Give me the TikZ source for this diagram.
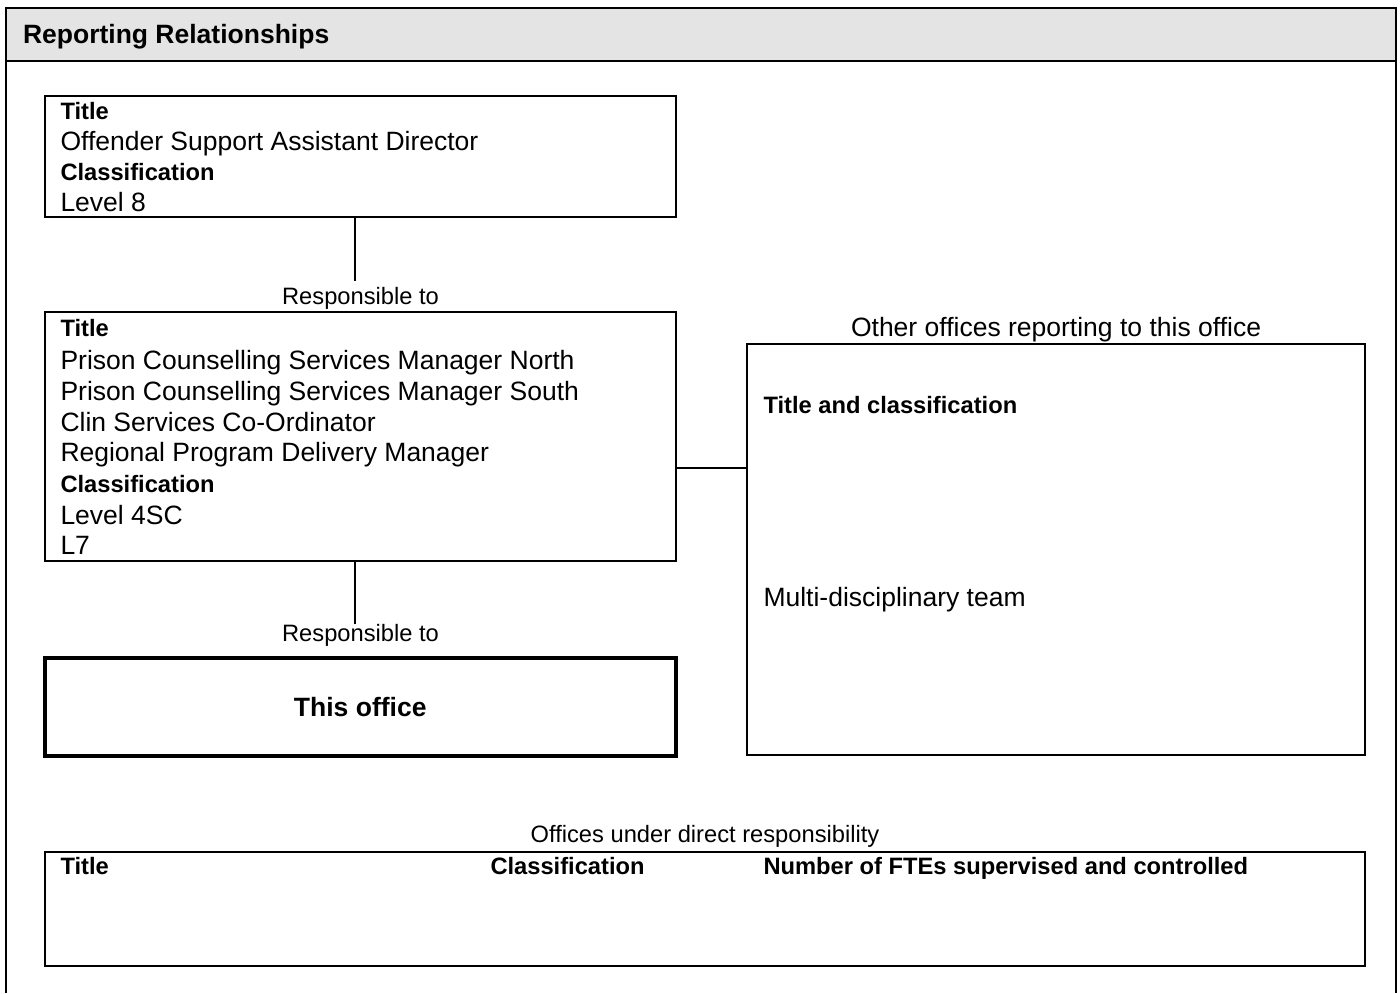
\documentclass[tikz,border=0pt]{standalone}
\usepackage{fontspec}
\setmainfont{Liberation Sans}
\usepackage{tikz}
\definecolor{headgray}{RGB}{228,228,228}
\newcommand{\mainsize}{\fontsize{13.25}{15}\selectfont}
\newcommand{\labelsize}{\fontsize{11.85}{14}\selectfont}

\begin{document}
\begin{tikzpicture}[x=0.5pt, y=-0.5pt, line width=1pt]
    % Define styles for boxes and texts
    \tikzstyle{office}=[draw, line width=1pt, inner sep=0pt]
    \tikzstyle{this office}=[office, line width=2pt]
    \tikzstyle{field}=[anchor=base west, inner sep=0pt, font=\labelsize\bfseries]
    \tikzstyle{entry}=[anchor=base west, inner sep=0pt, font=\mainsize]
    \tikzstyle{caption}=[anchor=base, inner sep=0pt, font=\labelsize]

    \useasboundingbox (0,0) rectangle (1400,993);

    % Frame and heading
    \fill[headgray] (5.5,7.5) rectangle (1395.5,61);
    \draw (5.5,993) -- (5.5,7.5) -- (1395.5,7.5) -- (1395.5,993);
    \draw (5.5,61) -- (1395.5,61);
    \node[entry, font=\mainsize\bfseries] (heading) at (22,43.3) {Reporting Relationships};

    % Boxes
    \node[office, minimum width=315.5pt, minimum height=60.5pt] (director) at (360.5,156) {};
    \node[office, minimum width=315.5pt, minimum height=124.25pt] (managers) at (360.5,436.25) {};
    \node[this office, minimum width=315.25pt, minimum height=49pt] (this) at (360.25,706.5) {};
    \node[office, minimum width=309pt, minimum height=205.5pt] (others) at (1056,549.5) {};
    \node[office, minimum width=660pt, minimum height=57pt] (offices) at (705,909) {};

    % Texts in the boxes
    \foreach \s/\t/\y [count=\i] in {field/Title/119,
            entry/Offender Support Assistant Director/150.7,
            field/Classification/180.5, entry/Level 8/211.3} {
        \node[\s] (director-\i) at (59.5,\y) {\t};
    }
    \foreach \s/\t/\y [count=\i] in {field/Title/336.5,
            entry/Prison Counselling Services Manager North/369,
            entry/Prison Counselling Services Manager South/400,
            entry/Clin Services Co-Ordinator/431,
            entry/Regional Program Delivery Manager/461.3,
            field/Classification/492.5, entry/Level 4SC/524.3, entry/L7/554.3} {
        \node[\s] (managers-\i) at (59.5,\y) {\t};
    }
    \node[anchor=base, inner sep=0pt, font=\mainsize\bfseries] (this-text) at (360.25,716.7) {This office};
    \node[field] (others-1) at (762.5,413.3) {Title and classification};
    \node[entry] (others-2) at (762.5,606) {Multi-disciplinary team};
    \foreach \t/\x [count=\i] in {Title/59.5, Classification/489.5,
            Number of FTEs supervised and controlled/762.5} {
        \node[field] (offices-\i) at (\x,874.5) {\t};
    }

    % Captions
    \node[caption] (resp-1) at (360.5,304) {Responsible to};
    \node[caption] (resp-2) at (360.5,641) {Responsible to};
    \node[caption, font=\mainsize] (others-cap) at (1056,336.5) {Other offices reporting to this office};
    \node[caption] (offices-cap) at (705,842) {Offices under direct responsibility};

    % Connections
    \coordinate (up-1) at (355,281);
    \coordinate (up-2) at (355,623.5);
    \coordinate (side) at (711,468);
    \draw (director.south -| up-1) -- (up-1);
    \draw (managers.south -| up-2) -- (up-2);
    \draw (managers.east |- side) -- (others.west |- side);

\end{tikzpicture}
\end{document}
